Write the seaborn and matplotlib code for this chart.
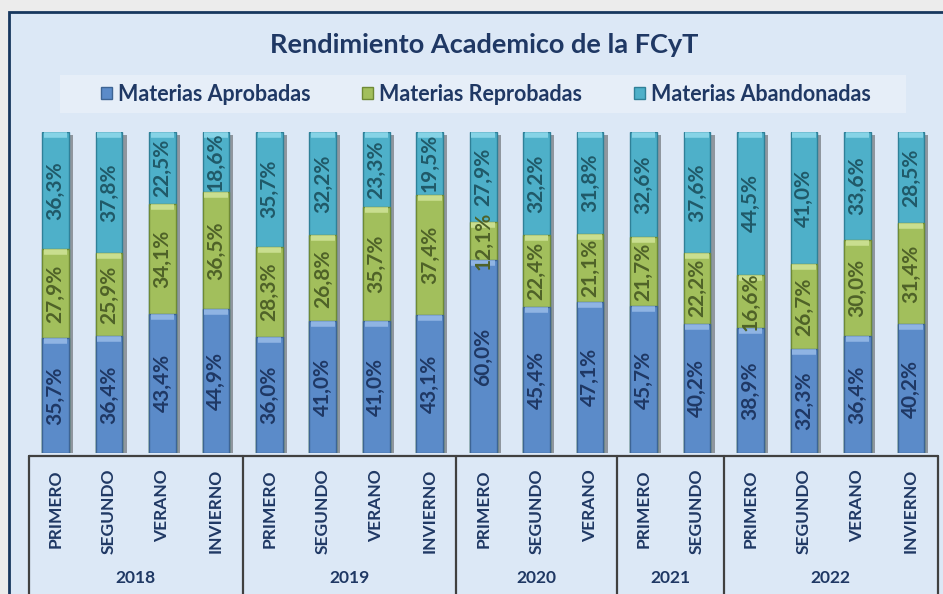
import numpy as np
import pandas as pd
import matplotlib
matplotlib.use('Agg')
import matplotlib.pyplot as plt
import matplotlib.patheffects as pe
from matplotlib.patches import Rectangle, Patch
from matplotlib.transforms import blended_transform_factory, offset_copy
import seaborn as sns

years = ['2018', '2019', '2020', '2021', '2022']
semesters = [
    ['PRIMERO', 'SEGUNDO', 'VERANO', 'INVIERNO'],
    ['PRIMERO', 'SEGUNDO', 'VERANO', 'INVIERNO'],
    ['PRIMERO', 'SEGUNDO', 'VERANO'],
    ['PRIMERO', 'SEGUNDO'],
    ['PRIMERO', 'SEGUNDO', 'VERANO', 'INVIERNO'],
]
aprobadas = [35.7, 36.4, 43.4, 44.9, 36.0, 41.0, 41.0, 43.1, 60.0, 45.4, 47.1, 45.7, 40.2, 38.9, 32.3, 36.4, 40.2]
reprobadas = [27.9, 25.9, 34.1, 36.5, 28.3, 26.8, 35.7, 37.4, 12.1, 22.4, 21.1, 21.7, 22.2, 16.6, 26.7, 30.0, 31.4]
abandonadas = [36.3, 37.8, 22.5, 18.6, 35.7, 32.2, 23.3, 19.5, 27.9, 32.2, 31.8, 32.6, 37.6, 44.5, 41.0, 33.6, 28.5]
series_names = ['Materias Aprobadas', 'Materias Reprobadas', 'Materias Abandonadas']

colors = ['#5b8bc9', '#a2bf5c', '#4eb0c9']
edge_colors = ['#3d6494', '#6f8a35', '#2f8098']
light_colors = ['#8fb4e3', '#c9de8f', '#86d3e6']
label_colors = ['#1f3864', '#4f6228', '#205968']
navy = '#1f3864'

sns.set_style('white')
plt.rcParams['font.family'] = ['Lato', 'DejaVu Sans']

df = pd.DataFrame({'idx': np.arange(len(aprobadas)),
                   'apr': aprobadas, 'rep': reprobadas, 'aba': abandonadas})
total = df[['apr', 'rep', 'aba']].sum(axis=1)
df['c1'] = df['apr'] / total
df['c2'] = (df['apr'] + df['rep']) / total
df['c3'] = 1.0

fig = plt.figure(figsize=(9.43, 5.94), dpi=100)
fig.patch.set_facecolor('#ececec')

# chart area background with navy frame
fig.patches.append(Rectangle((9 / 943, -0.05), 1.2, 1.05 - 12 / 594, transform=fig.transFigure,
                             facecolor='#dce8f6', edgecolor='#17375e', linewidth=2, zorder=-2))
# legend background box
fig.patches.append(Rectangle((60 / 943, 1 - 113 / 594), 846 / 943, 38 / 594, transform=fig.transFigure,
                             facecolor='#e6eef8', edgecolor='none', zorder=-1))

ax = fig.add_axes([28.8 / 943, (594 - 453) / 594, (937.6 - 28.8) / 943, 321 / 594])
ax.set_facecolor('none')
ax.set_zorder(2)

for col, c, ec in zip(['c3', 'c2', 'c1'], colors[::-1], edge_colors[::-1]):
    sns.barplot(data=df, x='idx', y=col, color=c, saturation=1, width=0.5,
                edgecolor=ec, linewidth=1, ax=ax)

# shadow on the full-height bars
for p in ax.patches[:len(df)]:
    p.set_path_effects([pe.SimplePatchShadow(offset=(3, -2), shadow_rgbFace='#333333', alpha=0.45), pe.Normal()])

# bevel highlight at the top of every segment
bevel_tr = offset_copy(ax.transData, fig=fig, y=-3, units='dots')
for col, lc in zip(['c1', 'c2', 'c3'], light_colors):
    ax.hlines(df[col], df['idx'] - 0.22, df['idx'] + 0.22, colors=lc, linewidth=4,
              transform=bevel_tr, zorder=3)

# data labels
for i, row in df.iterrows():
    bottoms = [0, row['c1'], row['c2']]
    tops = [row['c1'], row['c2'], 1.0]
    vals = [row['apr'], row['rep'], row['aba']]
    for b, t, v, lc in zip(bottoms, tops, vals, label_colors):
        ax.text(i, (b + t) / 2, f'{v:.1f}%'.replace('.', ','), rotation=90, zorder=4,
                ha='center', va='center', fontsize=15, fontweight='bold', color=lc)

ax.set_xlim(-0.5, len(df) - 0.5)
ax.set_ylim(0, 1)
ax.set_xticks([])
ax.set_yticks([])
ax.set_xlabel('')
ax.set_ylabel('')
sns.despine(ax=ax, left=True, bottom=True)

# multi-level category axis
tr = blended_transform_factory(ax.transData, ax.transAxes)
line_kw = dict(color='#404040', linewidth=1.6, transform=tr, clip_on=False)
top_y = -3 / 321
ax.plot([-0.5, len(df) - 0.5], [top_y, top_y], **line_kw)
start = 0
ax.plot([-0.5, -0.5], [top_y, -0.6], **line_kw)
for year, sems in zip(years, semesters):
    for j, s in enumerate(sems):
        ax.text(start + j, -16 / 321, s, rotation=90, ha='center', va='top', transform=tr,
                fontsize=12.5, fontweight='bold', color=navy)
    end = start + len(sems)
    ax.text((start + end - 1) / 2, -125 / 321, year, ha='center', va='center', transform=tr,
            fontsize=12.5, fontweight='bold', color=navy)
    ax.plot([end - 0.5, end - 0.5], [top_y, -0.6], **line_kw)
    start = end

fig.text(484 / 943, 1 - 45 / 594, 'Rendimiento Academico de la FCyT', ha='center', va='center',
         fontsize=19.5, fontweight='bold', color=navy)

handles = [Patch(facecolor=c, edgecolor=ec) for c, ec in zip(colors, edge_colors)]
fig.legend(handles, series_names, ncol=3, loc='center', bbox_to_anchor=(486 / 943, 1 - 94 / 594),
           frameon=False, handlelength=0.5, handleheight=0.5, handletextpad=0.3, columnspacing=2.4,
           prop={'size': 15.5, 'weight': 'bold'}, labelcolor=navy)

fig.savefig('out.png', dpi=100, facecolor=fig.get_facecolor())
